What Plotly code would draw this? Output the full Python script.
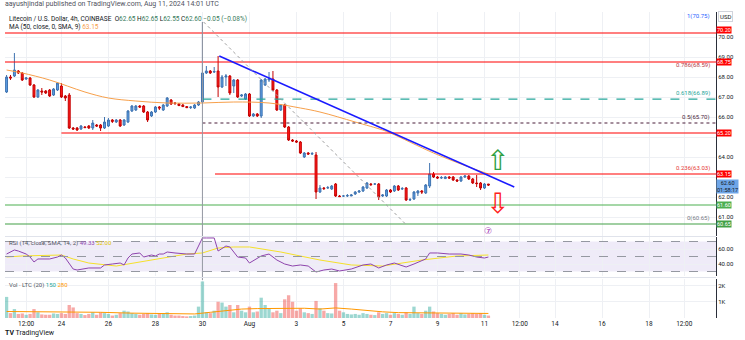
import pandas as pd
import plotly.graph_objects as go
from plotly.subplots import make_subplots

# ---------------- data ----------------
dates = pd.date_range("2024-07-21 16:00", periods=124, freq="4h")

opens = [67.25,68.00,68.05,68.30,68.20,67.90,67.95,67.60,67.00,67.30,
         67.30,67.35,67.10,67.35,67.55,67.05,67.10,65.45,65.45,65.40,
         65.50,65.55,65.45,65.60,65.60,65.45,65.55,65.85,65.75,65.85,
         65.60,65.75,66.30,66.35,66.55,66.55,66.25,66.05,66.25,66.50,
         66.35,66.55,66.85,66.70,66.65,66.60,66.52,66.47,66.45,66.60,
         66.75,68.20,68.30,68.25,68.30,67.50,68.00,68.05,67.55,67.85,
         67.05,66.90,67.15,66.05,66.15,66.05,67.60,67.85,67.90,67.35,
         66.35,66.60,65.50,64.85,64.80,64.75,64.00,64.20,64.15,64.10,
         62.25,62.45,62.45,62.40,62.65,62.05,62.05,62.05,62.05,62.15,
         62.25,62.30,62.45,62.65,62.65,62.65,62.05,62.05,62.35,62.30,
         62.55,62.40,62.45,61.85,61.90,62.20,62.30,62.20,62.55,63.15,
         63.00,62.95,62.92,63.00,63.00,62.85,62.80,63.00,63.05,62.90,
         62.70,62.70,62.45,62.65]
highs = [68.10,68.10,69.20,68.35,68.25,68.00,68.00,67.65,67.40,67.45,
         67.35,67.40,67.45,67.75,67.70,67.10,67.20,65.50,65.50,65.60,
         65.55,65.60,65.85,65.65,65.65,66.00,65.95,65.90,65.90,65.90,
         65.90,66.35,66.60,66.60,66.60,66.60,66.30,66.30,66.55,66.55,
         66.65,67.00,66.90,66.75,66.70,66.65,66.55,66.55,66.65,66.80,
         70.75,68.55,68.35,68.50,69.05,68.10,68.15,68.10,67.90,67.90,
         67.15,67.20,67.20,66.20,66.20,67.90,67.95,68.25,68.30,67.40,
         66.65,66.65,65.55,64.90,64.85,64.80,64.25,64.25,64.25,64.25,
         62.60,62.50,62.55,62.60,62.70,62.10,62.10,62.15,62.15,62.30,
         62.35,62.55,62.75,62.70,62.70,62.70,62.15,62.40,62.40,62.60,
         62.60,62.50,62.50,61.95,62.30,62.35,62.35,62.65,63.70,63.25,
         63.05,63.05,63.05,63.05,63.05,62.90,63.05,63.10,63.10,62.95,
         63.10,62.75,62.70,62.65]
lows = [67.20,67.85,68.00,68.15,67.80,67.85,67.55,66.95,66.95,67.10,
        67.15,67.00,67.05,67.30,66.95,66.80,65.40,65.35,65.30,65.35,
        65.45,65.40,65.35,65.50,65.30,65.40,65.50,65.70,65.70,65.50,
        65.55,65.70,66.25,66.30,66.45,66.20,65.75,66.00,66.20,66.35,
        66.30,66.50,66.60,66.60,66.55,66.50,66.45,66.40,66.40,66.55,
        66.70,68.15,68.15,68.20,67.00,67.45,67.55,67.10,67.20,66.95,
        67.00,66.85,66.00,66.00,66.00,65.95,67.55,67.75,67.30,66.30,
        66.30,65.45,64.80,64.75,64.70,64.15,63.95,64.10,64.10,61.90,
        62.20,62.35,62.40,62.35,62.00,62.00,62.00,62.00,62.05,62.10,
        62.20,62.25,62.40,62.55,62.60,61.85,62.00,62.00,62.20,62.25,
        62.30,62.35,61.80,61.80,61.85,62.05,62.15,62.15,62.45,62.95,
        62.90,62.90,62.90,62.90,62.80,62.75,62.75,62.95,62.85,62.65,
        62.50,62.35,62.40,62.55]
closes = [68.00,67.95,68.35,68.20,67.85,67.95,67.60,67.00,67.35,67.25,
          67.20,67.05,67.40,67.70,67.00,66.95,65.45,65.40,65.35,65.55,
          65.47,65.45,65.70,65.55,65.45,65.75,65.85,65.78,65.85,65.55,
          65.85,66.30,66.55,66.55,66.50,66.25,65.85,66.25,66.50,66.45,
          66.60,66.95,66.65,66.68,66.57,66.52,66.47,66.50,66.60,66.75,
          68.20,68.30,68.20,68.27,67.50,68.00,68.05,67.20,67.85,67.00,
          67.10,67.15,66.05,66.15,66.05,67.85,67.90,67.90,67.35,66.35,
          66.60,65.50,64.85,64.80,64.75,64.20,64.20,64.15,64.17,62.25,
          62.45,62.42,62.47,62.55,62.05,62.02,62.05,62.07,62.10,62.25,
          62.30,62.50,62.70,62.62,62.65,62.00,62.10,62.35,62.25,62.55,
          62.35,62.42,61.85,61.87,62.25,62.30,62.25,62.60,63.15,63.00,
          62.95,62.97,63.00,62.95,62.85,62.80,63.00,63.05,62.90,62.70,
          62.67,62.45,62.65,62.60]
volumes_k = [1.30,0.30,0.55,0.25,0.28,0.20,0.25,0.55,0.35,0.22,
             0.20,0.20,0.28,0.25,0.30,0.25,0.80,0.65,0.30,0.25,
             0.18,0.25,0.35,0.20,0.35,0.30,0.25,0.15,0.20,0.30,
             0.45,0.40,0.30,0.25,0.20,0.25,0.30,0.22,0.20,0.25,
             0.30,0.35,0.20,0.15,0.15,0.12,0.10,0.12,0.15,0.70,
             2.25,0.35,0.30,0.45,1.00,0.95,0.70,0.80,0.35,0.80,
             0.45,0.35,0.70,0.35,0.40,1.25,0.80,0.60,0.35,0.45,
             0.30,1.15,1.40,1.00,0.45,0.60,0.35,0.30,0.25,1.05,
             0.60,0.45,0.30,0.28,2.15,0.45,0.35,0.25,0.22,0.25,
             0.20,0.30,0.25,0.20,0.18,0.35,0.25,0.30,0.20,0.30,
             0.25,0.20,0.35,0.25,0.70,0.30,0.25,0.45,0.70,0.40,
             0.30,0.25,0.20,0.25,0.30,0.20,0.30,0.22,0.25,0.30,
             0.25,0.30,0.20,0.15]

ma_idx = [0,4,11,20,26,33,41,50,58,67,75,80,89,96,98,109,118,123]
ma_vals = [68.35,68.20,67.85,67.25,66.95,66.80,66.70,66.70,66.75,66.70,
           66.45,66.25,65.75,65.35,65.20,64.20,63.50,63.15]

vol_ma_idx = [0,8,16,24,32,40,48,52,56,60,64,68,72,76,80,84,88,92,96,100,104,108,112,116,123]
vol_ma_vals = [0.40,0.38,0.40,0.35,0.30,0.28,0.25,0.35,0.45,0.55,0.58,0.60,0.62,0.60,
               0.55,0.62,0.55,0.45,0.38,0.33,0.32,0.33,0.32,0.30,0.28]

rsi_idx = [0,2,3,5,6,7,8,11,13,14,15,17,18,21,24,25,27,29,30,31,32,34,35,37,38,39,40,41,
           43,45,46,48,50,51,53,54,56,57,59,61,62,65,67,69,71,73,75,77,79,81,83,85,88,91,
           93,95,97,99,102,104,107,108,110,113,116,118,120,122,123]
rsi_vals = [53.3,58.7,57.3,53.3,49.3,42.7,46.7,46.7,49.3,52.0,48.0,33.3,32.0,34.7,34.7,
            38.7,40.0,41.3,38.7,48.0,53.3,54.7,49.3,52.0,50.7,53.3,53.3,56.0,54.7,53.3,
            53.3,53.3,74.7,74.7,74.7,57.3,64.0,62.7,49.3,48.0,41.3,50.7,53.3,45.3,40.0,
            37.3,38.7,37.3,29.3,32.0,33.3,30.7,33.3,38.7,40.0,34.7,38.7,41.3,36.0,40.0,
            46.7,54.7,54.7,53.3,53.3,52.0,49.3,48.0,49.3]
rsi_sma_idx = [0,4,14,17,21,24,28,31,34,38,41,46,50,54,58,62,70,80,88,96,106,115,123]
rsi_sma_vals = [49.3,50.7,52.0,46.7,41.3,40.0,37.3,40.0,42.7,46.7,49.3,53.3,54.7,61.3,
                62.7,62.7,56.0,45.3,38.7,37.3,45.3,50.7,52.0]

tick_dates = ["2024-07-22 12:00","2024-07-24","2024-07-26","2024-07-28","2024-07-30",
              "2024-08-01","2024-08-03","2024-08-05","2024-08-07","2024-08-09","2024-08-11",
              "2024-08-12 12:00","2024-08-14","2024-08-16","2024-08-18","2024-08-19 12:00"]
tick_text = ["12:00","24","26","28","30","Aug","3","5","7","9","11","12:00","14","16","18","12:00"]

price_ticks = [61,62,63,64,65,66,67,68,69,70]
price_tick_text = ["61.00","62.00","","64.00","","66.00","67.00","68.00","69.00","70.00"]

# horizontal levels (price, color, start date or None for full width, dash)
levels = [
    (70.20, "#ff0000", None, "solid"),
    (68.75, "#ff0000", None, "solid"),
    (66.89, "#26a69a", "2024-07-30 00:00", "dash"),
    (65.70, "#4a1f3a", "2024-07-30 00:00", "dot"),
    (65.20, "#ff0000", "2024-07-24 00:00", "solid"),
    (63.15, "#ff0000", "2024-07-30 12:48", "solid"),
    (61.60, "#4caf50", None, "solid"),
    (60.65, "#43a047", None, "solid"),
]
# (price, colour, vertical nudge in px)
badges = [(70.20, "#ff0000", 3), (68.75, "#ff0000", 0), (65.20, "#ff0000", 0),
          (63.15, "#ff0000", 0), (61.60, "#4caf50", 0), (60.65, "#43a047", 0)]
fib_labels = [(70.75, "1(70.75)", "#2962ff", "bottom"), (68.59, "0.786(68.59)", "#b03a48", "middle"),
              (66.89, "0.618(66.89)", "#26a69a", "bottom"), (65.70, "0.5(65.70)", "#4a1f3a", "bottom"),
              (63.15, "0.236(63.03)", "#e53935", "bottom"), (60.65, "0(60.65)", "#787b86", "bottom")]

x_start, x_end = "2024-07-21 14:24", "2024-08-20 20:24"

# ---------------- figure ----------------
W, H, ML, MR, MT, MB = 745, 340, 5, 29, 12, 22
PW, PH = W - ML - MR, H - MT - MB
def py(pix):
    return (H - MB - pix) / PH
def px(pix):
    return (pix - ML) / PW

fig = make_subplots(rows=3, cols=1, shared_xaxes=True, vertical_spacing=0.01)

fig.add_trace(go.Scatter(x=[dates[i] for i in ma_idx], y=ma_vals, mode="lines",
                         line=dict(color="#f7a04b", width=1, shape="spline"),
                         hoverinfo="skip"), row=1, col=1)
fig.add_trace(go.Candlestick(
    x=dates, open=opens, high=highs, low=lows, close=closes,
    increasing=dict(fillcolor="#5b9ee6", line=dict(color="#3f73b0", width=1)),
    decreasing=dict(fillcolor="#ff1a1a", line=dict(color="#c40000", width=1)),
    whiskerwidth=0), row=1, col=1)

fig.add_trace(go.Scatter(x=[dates[i] for i in rsi_sma_idx], y=rsi_sma_vals, mode="lines",
                         line=dict(color="#f5e02a", width=1)), row=2, col=1)
fig.add_trace(go.Scatter(x=[dates[i] for i in rsi_idx], y=rsi_vals, mode="lines",
                         line=dict(color="#8e44ad", width=1)), row=2, col=1)

vol_colors = ["rgba(38,166,154,0.45)" if c >= o else "rgba(239,83,80,0.5)"
              for o, c in zip(opens, closes)]
fig.add_trace(go.Bar(x=dates, y=volumes_k, marker=dict(color=vol_colors, line=dict(width=0))),
              row=3, col=1)
fig.add_trace(go.Scatter(x=[dates[i] for i in vol_ma_idx], y=vol_ma_vals, mode="lines",
                         line=dict(color="#ff9800", width=1)), row=3, col=1)

shapes = []
for price, color, start, dash in levels:
    if start is None:
        shapes.append(dict(type="line", xref="paper", x0=0, x1=1, yref="y", y0=price, y1=price,
                           line=dict(color=color, width=1.2, dash=dash)))
    else:
        shapes.append(dict(type="line", xref="x", x0=start, x1=x_end, yref="y", y0=price, y1=price,
                           line=dict(color=color, width=1.2, dash=dash)))
# trend line & fib diagonal
shapes.append(dict(type="line", xref="x", yref="y", x0="2024-07-30 17:12", y0=69.05,
                   x1="2024-08-12 06:24", y1=62.50, line=dict(color="#1a1aff", width=1.6)))
shapes.append(dict(type="line", xref="x", yref="y", x0="2024-07-30 01:12", y0=70.75,
                   x1="2024-08-07 16:24", y1=60.60, line=dict(color="#a0a0a0", width=1, dash="dot")))
# vertical marker line
shapes.append(dict(type="line", xref="x", yref="paper", x0="2024-07-30 00:00", x1="2024-07-30 00:00",
                   y0=py(280), y1=py(22), line=dict(color="#9598a1", width=1)))
# RSI band and levels
shapes.append(dict(type="rect", xref="paper", x0=0, x1=1, yref="y2", y0=30, y1=70,
                   fillcolor="rgba(126,87,194,0.12)", line=dict(width=0), layer="below"))
for lv in (70, 50, 30):
    shapes.append(dict(type="line", xref="paper", x0=0, x1=1, yref="y2", y0=lv, y1=lv,
                       line=dict(color="#9598a1", width=1, dash="dash")))
# pane separators
for pix in (236.5, 277.5):
    shapes.append(dict(type="line", xref="paper", x0=0, x1=1, yref="paper", y0=py(pix), y1=py(pix),
                       line=dict(color="#e0e3eb", width=1)))

ann = []
ann.append(dict(xref="paper", yref="paper", x=px(3), y=py(4), xanchor="left", yanchor="middle",
                text="aayushjindal published on TradingView.com, Aug 11, 2024 14:01 UTC",
                showarrow=False, font=dict(size=7, color="#50535e")))
vc = "#387a5b"
ann.append(dict(xref="paper", yref="paper", x=px(7), y=py(19), xanchor="left", yanchor="middle",
                text=("Litecoin / U.S. Dollar, 4h, COINBASE  "
                      f"O<span style='color:{vc}'>62.65</span> H<span style='color:{vc}'>62.65</span> "
                      f"L<span style='color:{vc}'>62.55</span> C<span style='color:{vc}'>62.60</span> "
                      f"<span style='color:{vc}'>−0.05 (−0.08%)</span>"),
                showarrow=False, font=dict(size=6.5, color="#131722")))
ann.append(dict(xref="paper", yref="paper", x=px(7), y=py(27), xanchor="left", yanchor="middle",
                text="MA (50, close, 0, SMA, 9) <span style='color:#f7a04b'>63.15</span>",
                showarrow=False, font=dict(size=6.5, color="#131722")))
ann.append(dict(xref="paper", yref="paper", x=px(7), y=py(243), xanchor="left", yanchor="middle",
                text=("RSI (14, close, SMA, 14, 2) <span style='color:#8e44ad'>49.33</span> "
                      "<span style='color:#e0c400'>52.00</span>"),
                showarrow=False, font=dict(size=6, color="#50535e")))
ann.append(dict(xref="paper", yref="paper", x=px(7), y=py(285), xanchor="left", yanchor="middle",
                text=("Vol · LTC (20) <span style='color:#26a69a'>150</span> "
                      "<span style='color:#ff9800'>280</span>"),
                showarrow=False, font=dict(size=6, color="#50535e")))
for price, txt, col, ya in fib_labels:
    ann.append(dict(xref="paper", yref="y", x=px(712), y=price, xanchor="right", yanchor=ya,
                    text=txt, showarrow=False, font=dict(size=6, color=col)))
for price, col, nudge in badges:
    ann.append(dict(xref="paper", yref="y", x=1, y=price, xanchor="left", yanchor="middle",
                    yshift=nudge, text=f"{price:.2f}", showarrow=False, bgcolor=col, borderpad=0,
                    font=dict(size=5.5, color="white")))
ann.append(dict(xref="paper", yref="y", x=1, y=closes[-1], xanchor="left", yanchor="top",
                yshift=6, text=f"{closes[-1]:.2f}<br>01:58:17", showarrow=False,
                bgcolor="#6ea6e8", borderpad=0, font=dict(size=5.5, color="#131722")))
ann.append(dict(xref="paper", yref="paper", x=px(718), y=py(16.5), xanchor="left", yanchor="middle",
                text="USD", showarrow=False, bordercolor="#d1d4dc", borderwidth=1, borderpad=1,
                bgcolor="white", font=dict(size=6, color="#131722")))
ann.append(dict(xref="x", yref="y", x="2024-08-11 13:00", y=63.85, text="⇧", showarrow=False,
                font=dict(size=28, color="#2ea043", family="DejaVu Sans")))
ann.append(dict(xref="x", yref="y", x="2024-08-11 13:00", y=61.70, text="⇩", showarrow=False,
                font=dict(size=28, color="#ff2020", family="DejaVu Sans")))
ann.append(dict(xref="x", yref="y", x=dates[123], y=60.30, text="⑦", showarrow=False,
                font=dict(size=9, color="#9c27b0", family="DejaVu Sans")))
ann.append(dict(xref="paper", yref="paper", x=px(3), y=py(333), xanchor="left", yanchor="middle",
                text="<b>TV</b> TradingView", showarrow=False, font=dict(size=7, color="#131722")))

fig.update_layout(width=W, height=H, margin=dict(l=ML, r=MR, t=MT, b=MB),
                  paper_bgcolor="white", plot_bgcolor="white", showlegend=False,
                  bargap=0.15, font=dict(family="Roboto, Arial", size=7, color="#131722"),
                  shapes=shapes, annotations=ann, hovermode=False)
fig.update_xaxes(range=[x_start, x_end], tickvals=tick_dates, ticktext=tick_text,
                 showgrid=True, gridcolor="#eef0f4", gridwidth=1, showticklabels=False,
                 rangeslider_visible=False, zeroline=False, showline=False, ticks="")
fig.update_xaxes(showticklabels=True, tickfont=dict(size=6.5, color="#131722"), row=3, col=1)
fig.update_yaxes(side="right", showline=True, linecolor="#2a2e39", linewidth=1,
                 gridcolor="#eef0f4", zeroline=False, tickfont=dict(size=6, color="#131722"),
                 ticks="")
fig.layout.yaxis.update(domain=[py(236), 1], range=[60.05, 71.25], tickvals=price_ticks,
                        ticktext=price_tick_text)
fig.layout.yaxis2.update(domain=[py(276), py(237)], range=[24, 76], tickvals=[40, 60],
                         ticktext=["40.00", "60.00"])
fig.layout.yaxis3.update(domain=[0, py(279)], range=[0, 2.4], tickvals=[1, 2],
                         ticktext=["1K", "2K"])

fig.write_html("out.html")
